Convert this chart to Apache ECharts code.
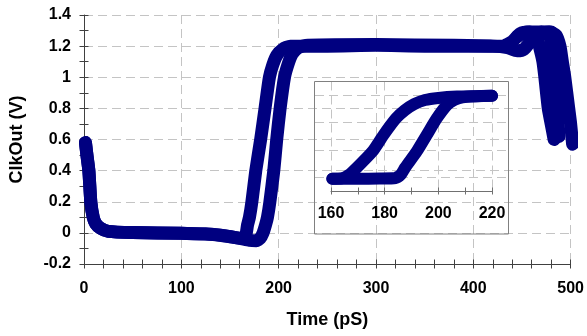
<!DOCTYPE html>
<html><head><meta charset="utf-8">
<script src="https://cdn.jsdelivr.net/npm/echarts@6/dist/echarts.min.js"></script>
<style>html,body{margin:0;padding:0;background:#fff}#c{width:587px;height:336px}</style>
</head><body><div id="c"></div>
<script>
// ---- data (time in pS, voltage in V) ----
const traceA = [[1.5,0.58],[3,0.5],[5,0.4],[7,0.2],[9.5,0.1],[12,0.06],[17,0.03],[25,0.01],[50,0.002],[100,-0.003],[125,-0.006],[140,-0.015],[152,-0.026],[162,-0.035],[166,-0.02],[168,0.05],[170,0.1],[172.5,0.2],[176.5,0.4],[181.5,0.6],[186,0.8],[190.5,1.0],[194,1.08],[198,1.14],[204,1.18],[212,1.2],[250,1.2],[300,1.205],[350,1.2],[400,1.2],[430,1.2],[440,1.23],[448,1.28],[458,1.29],[465,1.26],[469,1.17],[471.5,1.1],[473.5,1.0],[477,0.8],[480,0.7],[483,0.6]];
const traceB = [[1.5,0.58],[3,0.5],[5,0.4],[7,0.2],[9.5,0.1],[12,0.06],[17,0.03],[25,0.01],[50,0.002],[100,-0.003],[140,-0.015],[160,-0.035],[170,-0.048],[177,-0.05],[181,-0.035],[184,0.0],[186.5,0.05],[188.5,0.1],[191,0.2],[195,0.4],[198,0.6],[201.5,0.8],[206,1.0],[210,1.09],[214,1.15],[220,1.19],[230,1.205],[300,1.21],[380,1.205],[420,1.2],[435,1.19],[445,1.17],[452,1.18],[460,1.24],[468,1.28],[478,1.29],[485,1.27],[489,1.2],[491.5,1.1],[494,1.0],[498,0.8],[500,0.7],[502,0.57]];
const traceC = [[445,1.26],[455,1.29],[470,1.29],[478,1.27],[481,1.18],[483,1.05],[485.5,0.85],[487,0.72],[488,0.62]];
const traceD = [[470,1.29],[480,1.29],[485,1.22],[488,1.05],[490.5,0.85],[492,0.74]];
const insetA = [[160.5,-0.02],[164,-0.015],[166.5,0.03],[169.6,0.14],[175.5,0.38],[179.6,0.62],[184.2,0.86],[187.5,0.98],[191,1.07],[195,1.13],[200,1.16],[207,1.18],[214,1.185],[220,1.19]];
const insetB = [[160.5,-0.02],[170,-0.02],[178,-0.018],[184,-0.01],[186,0.04],[187.6,0.14],[192,0.38],[195.7,0.62],[199.4,0.86],[203.3,1.06],[206,1.13],[209,1.17],[214,1.185],[220,1.19]];
// axis ranges: [min, max, major step, minor step]
const mainX = [0, 500, 100, 20];
const mainY = [-0.2, 1.4, 0.2, 0.1];
const insetX = [160, 220, 20, 10];
const insetY = [-0.2, 1.4];
const insetGridValues = [0, 0.4, 0.8, 1.2];
const xTitle = 'Time (pS)';
const yTitle = 'ClkOut (V)';

const NAVY = '#000080';
const AXIS = '#404040';
const GRIDC = '#c4c4c4';
const FONT = 'Liberation Sans, Arial, sans-serif';
const dash = [9, 5];
const lbl = {fontFamily: FONT, fontWeight: 'bold', fontSize: 16, color: '#000'};

function tickAxis(base, interval, inside, len, color) {
  return Object.assign({}, base, {
    interval: interval,
    axisLine: {show: false, onZero: false},
    axisTick: {show: true, inside: inside, length: len, lineStyle: {color: color, width: 1}},
    axisLabel: {show: false},
    splitLine: {show: false}
  });
}

const chart = echarts.init(document.getElementById('c'), null, {renderer: 'canvas'});
const mxBase = {type: 'value', gridIndex: 0, min: mainX[0], max: mainX[1], position: 'bottom'};
const myBase = {type: 'value', gridIndex: 0, min: mainY[0], max: mainY[1], position: 'left'};
const ixBase = {type: 'value', gridIndex: 1, min: insetX[0], max: insetX[1], position: 'bottom'};

const lineSeries = (data, xi, yi, w) => ({
  type: 'line', data: data, xAxisIndex: xi, yAxisIndex: yi, smooth: 0.2,
  showSymbol: false, symbol: 'none', clip: false, silent: true, z: 3,
  lineStyle: {color: NAVY, width: w, cap: 'round', join: 'round'}
});

chart.setOption({
  animation: false,
  backgroundColor: '#fff',
  grid: [
    {left: 83, right: 16, top: 15, bottom: 72},
    {left: 331, right: 95, top: 81.5, bottom: 145},
    {left: 315, right: 79, top: 81.5, bottom: 145}
  ],
  xAxis: [
    Object.assign({}, mxBase, {
      interval: mainX[2],
      axisLine: {show: true, onZero: false, lineStyle: {color: AXIS, width: 1}},
      axisTick: {show: false},
      axisLabel: Object.assign({margin: 17}, lbl),
      splitLine: {show: true, lineStyle: {color: GRIDC, type: dash, width: 1}},
      name: xTitle, nameLocation: 'middle', nameGap: 47,
      nameTextStyle: {fontFamily: FONT, fontWeight: 'bold', fontSize: 18, color: '#000'}
    }),
    tickAxis(mxBase, mainX[3], false, 4.5, AXIS),
    tickAxis(mxBase, mainX[3], true, 4.5, AXIS),
    Object.assign({}, ixBase, {
      interval: insetX[2],
      axisLine: {show: true, onZero: false, lineStyle: {color: '#707070', width: 1}},
      axisTick: {show: false},
      axisLabel: Object.assign({margin: 15}, lbl),
      splitLine: {show: true, lineStyle: {color: GRIDC, type: dash, width: 1}}
    }),
    tickAxis(ixBase, insetX[3], false, 3.5, '#707070'),
    tickAxis(ixBase, insetX[3], true, 3.5, '#707070'),
    {type: 'value', gridIndex: 2, min: 0, max: 1, show: false}
  ],
  yAxis: [
    Object.assign({}, myBase, {
      interval: mainY[2],
      axisLine: {show: true, onZero: false, lineStyle: {color: AXIS, width: 1}},
      axisTick: {show: false},
      axisLabel: Object.assign({margin: 13}, lbl),
      splitLine: {show: true, lineStyle: {color: GRIDC, type: dash, width: 1}},
      name: yTitle, nameLocation: 'middle', nameGap: 58,
      nameTextStyle: {fontFamily: FONT, fontWeight: 'bold', fontSize: 18, color: '#000'}
    }),
    tickAxis(myBase, mainY[3], false, 4.5, AXIS),
    tickAxis(myBase, mainY[3], true, 4.5, AXIS),
    {type: 'value', gridIndex: 1, min: insetY[0], max: insetY[1], show: false},
    {type: 'value', gridIndex: 2, min: insetY[0], max: insetY[1], show: false}
  ],
  graphic: [{
    type: 'rect', shape: {x: 314.5, y: 81.5, width: 194, height: 152.5},
    style: {fill: 'none', stroke: '#808080', lineWidth: 1}, z: 10, silent: true
  }],
  series: [
    {
      type: 'line', xAxisIndex: 6, yAxisIndex: 4, data: [[0, insetY[0]]],
      showSymbol: false, symbol: 'none', lineStyle: {opacity: 0}, z: 1, silent: true,
      markLine: {
        silent: true, symbol: 'none', label: {show: false}, animation: false, z: 1,
        lineStyle: {color: GRIDC, type: dash, width: 1},
        data: insetGridValues.map(v => ({yAxis: v}))
      }
    },
    lineSeries(traceA, 0, 0, 13),
    lineSeries(traceB, 0, 0, 13),
    lineSeries(traceC, 0, 0, 13),
    lineSeries(traceD, 0, 0, 13),
    lineSeries(insetA, 3, 3, 12),
    lineSeries(insetB, 3, 3, 12)
  ]
});
</script>
</body></html>
